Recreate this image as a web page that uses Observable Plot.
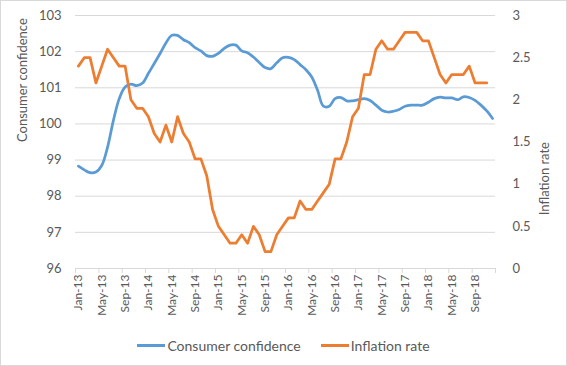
<!DOCTYPE html>
<html>
<head>
<meta charset="utf-8">
<script src="https://cdn.jsdelivr.net/npm/d3@7"></script>
<script src="https://cdn.jsdelivr.net/npm/@observablehq/plot@0.6"></script>
<style>
  html, body { margin: 0; padding: 0; background: #fff; }
  #wrap { position: relative; width: 567px; height: 366px; overflow: hidden; background: #fff; font-family: Lato, "Open Sans", sans-serif; }
  #frame { position: absolute; left: 0; top: 0; width: 567px; height: 366px; box-sizing: border-box; border: 1px solid #d9d9d9; pointer-events: none; }
  #legend { position: absolute; left: 0; width: 567px; top: 335px; height: 20px; display: flex; justify-content: center; align-items: center; gap: 20px; font-size: 14px; color: #595959; }
  .item { display: flex; align-items: center; gap: 2px; }
  .sw { width: 28px; height: 3px; }
</style>
</head>
<body>
<div id="wrap">
  <div id="chart"></div>
  <div id="legend"></div>
  <div id="frame"></div>
</div>
<script>
const months = [
  "Jan-13","Feb-13","Mar-13","Apr-13","May-13","Jun-13","Jul-13","Aug-13","Sep-13","Oct-13","Nov-13","Dec-13",
  "Jan-14","Feb-14","Mar-14","Apr-14","May-14","Jun-14","Jul-14","Aug-14","Sep-14","Oct-14","Nov-14","Dec-14",
  "Jan-15","Feb-15","Mar-15","Apr-15","May-15","Jun-15","Jul-15","Aug-15","Sep-15","Oct-15","Nov-15","Dec-15",
  "Jan-16","Feb-16","Mar-16","Apr-16","May-16","Jun-16","Jul-16","Aug-16","Sep-16","Oct-16","Nov-16","Dec-16",
  "Jan-17","Feb-17","Mar-17","Apr-17","May-17","Jun-17","Jul-17","Aug-17","Sep-17","Oct-17","Nov-17","Dec-17",
  "Jan-18","Feb-18","Mar-18","Apr-18","May-18","Jun-18","Jul-18","Aug-18","Sep-18","Oct-18","Nov-18","Dec-18"
];
const tickLabels = ["Jan-13","May-13","Sep-13","Jan-14","May-14","Sep-14","Jan-15","May-15","Sep-15",
  "Jan-16","May-16","Sep-16","Jan-17","May-17","Sep-17","Jan-18","May-18","Sep-18"];

const consumerConfidence = [
  98.83, 98.73, 98.65, 98.67, 98.85, 99.36, 100.1, 100.7, 101.02, 101.1, 101.06, 101.13,
  101.4, 101.67, 101.95, 102.24, 102.45, 102.45, 102.33, 102.25, 102.11, 102.02, 101.89, 101.87,
  101.95, 102.09, 102.18, 102.18, 102.02, 101.97, 101.85, 101.70, 101.56, 101.53, 101.69, 101.83,
  101.84, 101.78, 101.64, 101.5, 101.30, 100.93, 100.49, 100.49, 100.70, 100.73, 100.64, 100.64,
  100.67, 100.70, 100.65, 100.52, 100.38, 100.33, 100.35, 100.40, 100.49, 100.52, 100.52, 100.52,
  100.6, 100.70, 100.74, 100.72, 100.72, 100.67, 100.75, 100.73, 100.65, 100.52, 100.36, 100.15
];
const inflationRate = [
  2.4, 2.5, 2.5, 2.2, 2.4, 2.6, 2.5, 2.4, 2.4, 2.0, 1.9, 1.9,
  1.8, 1.6, 1.5, 1.7, 1.5, 1.8, 1.6, 1.5, 1.3, 1.3, 1.1, 0.7,
  0.5, 0.4, 0.3, 0.3, 0.4, 0.3, 0.5, 0.4, 0.2, 0.2, 0.4, 0.5,
  0.6, 0.6, 0.8, 0.7, 0.7, 0.8, 0.9, 1.0, 1.3, 1.3, 1.5, 1.8,
  1.9, 2.3, 2.3, 2.6, 2.7, 2.6, 2.6, 2.7, 2.8, 2.8, 2.8, 2.7,
  2.7, 2.5, 2.3, 2.2, 2.3, 2.3, 2.3, 2.4, 2.2, 2.2, 2.2
];
const leftTicks = [96, 97, 98, 99, 100, 101, 102, 103];
const rightTicks = [0, 0.5, 1, 1.5, 2, 2.5, 3];
const seriesNames = ["Consumer confidence", "Inflation rate"];
const colors = ["#5B9BD5", "#ED7D31"];

// map right-axis values onto the left scale
const L0 = 96, L1 = 103, R0 = 0, R1 = 3;
const toLeft = v => L0 + (v - R0) * (L1 - L0) / (R1 - R0);
const fromLeft = y => R0 + (y - L0) * (R1 - R0) / (L1 - L0);

const cc = consumerConfidence.map((v, i) => ({x: i + 0.5, y: v}));
const inf = inflationRate.map((v, i) => ({x: i + 0.5, y: toLeft(v)}));
const labelPos = tickLabels.map(t => months.indexOf(t) + 0.5);
const boundaries = d3.range(0, months.length + 1, 4);

const chart = Plot.plot({
  width: 567,
  height: 332,
  marginLeft: 75,
  marginRight: 72,
  marginTop: 15,
  marginBottom: 64,
  style: {fontFamily: "Lato, 'Open Sans', sans-serif", color: "#595959", background: "transparent"},
  x: {domain: [0, months.length]},
  y: {domain: [L0, L1]},
  marks: [
    Plot.gridY(leftTicks, {stroke: "#d9d9d9", strokeOpacity: 1}),
    Plot.ruleY([L0], {stroke: "#d9d9d9"}),
    Plot.axisX(boundaries, {tickSize: 5, tickFormat: () => "", stroke: "#d9d9d9", label: null}),
    Plot.axisX(labelPos, {tickSize: 0, tickPadding: 6, tickRotate: -90, tickFormat: d => months[d - 0.5], fontSize: 12, label: null, fill: "#595959"}),
    Plot.axisY(leftTicks, {anchor: "left", tickSize: 0, tickPadding: 14, fontSize: 13, label: null, fill: "#595959"}),
    Plot.axisY(rightTicks.map(toLeft), {anchor: "right", tickSize: 0, tickPadding: 17, fontSize: 13, label: null, fill: "#595959",
      tickFormat: d => String(Number(fromLeft(d).toFixed(2)))}),
    Plot.text([seriesNames[0]], {frameAnchor: "left", dx: -53, rotate: -90, fontSize: 13, fill: "#595959"}),
    Plot.text([seriesNames[1]], {frameAnchor: "right", dx: 49, rotate: -90, fontSize: 13, fill: "#595959"}),
    Plot.line(cc, {x: "x", y: "y", stroke: colors[0], strokeWidth: 2.75, curve: "catmull-rom"}),
    Plot.line(inf, {x: "x", y: "y", stroke: colors[1], strokeWidth: 2.75})
  ]
});
document.getElementById("chart").appendChild(chart);

const legend = document.getElementById("legend");
seriesNames.forEach((name, i) => {
  const item = document.createElement("div");
  item.className = "item";
  const sw = document.createElement("div");
  sw.className = "sw";
  sw.style.background = colors[i];
  const t = document.createElement("span");
  t.textContent = name;
  item.appendChild(sw);
  item.appendChild(t);
  legend.appendChild(item);
});
</script>
</body>
</html>
